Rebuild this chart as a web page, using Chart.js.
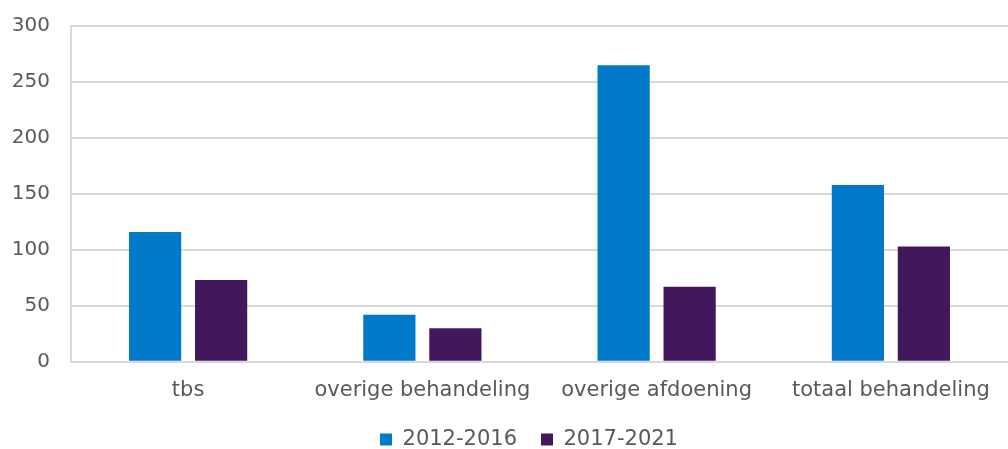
<!DOCTYPE html>
<html><head><meta charset="utf-8">
<script src="https://cdn.jsdelivr.net/npm/chart.js@4"></script>
<style>html,body{margin:0;padding:0;background:#fff}#wrap{width:1008px;height:449px}</style>
</head><body><div id="wrap"><canvas id="c" width="1008" height="449"></canvas></div>
<script>
const categories = ["tbs", "overige behandeling", "overige afdoening", "totaal behandeling"];
const series2012_2016 = [116, 42, 265, 158];
const series2017_2021 = [73, 30, 67, 103];
const yTicks = [0, 50, 100, 150, 200, 250, 300];

Chart.defaults.font.family = "'DejaVu Sans', Verdana, sans-serif";
Chart.defaults.color = "#595959";

const legendShift = {
  id: 'legendShift',
  afterLayout(chart) {
    const lg = chart.legend;
    lg.left += 18; lg.right += 18;
    lg.top -= 14; lg.bottom -= 14;
  }
};

new Chart(document.getElementById('c'), {
  type: 'bar',
  data: {
    labels: categories,
    datasets: [
      {label: "2012-2016", data: series2012_2016, backgroundColor: "#0079C8"},
      {label: "2017-2021", data: series2017_2021, backgroundColor: "#43175C"}
    ]
  },
  plugins: [legendShift],
  options: {
    responsive: false,
    animation: false,
    devicePixelRatio: 1,
    categoryPercentage: 0.5635,
    barPercentage: 0.791,
    layout: {padding: {top: 26, right: -14, left: 0, bottom: -25}},
    plugins: {
      legend: {
        position: 'bottom',
        labels: {boxWidth: 12, boxHeight: 12, padding: 24, font: {size: 21}, color: "#595959"}
      },
      tooltip: {enabled: false}
    },
    scales: {
      x: {
        grid: {display: false, drawTicks: false},
        border: {display: true, color: "#d9d9d9", width: 2},
        ticks: {font: {size: 21}, padding: 16, color: "#595959", maxRotation: 0, autoSkip: false}
      },
      y: {
        min: 0, max: 300,
        afterBuildTicks: (s) => { s.ticks = yTicks.map(v => ({value: v})); },
        afterFit: (s) => { s.width = 71; s.paddingTop = 0; s.paddingBottom = 0; },
        grid: {color: "#d9d9d9", lineWidth: 2, drawTicks: false},
        border: {display: true, color: "#d9d9d9", width: 2},
        ticks: {font: {size: 20}, padding: 21, color: "#595959"}
      }
    }
  }
});
</script></body></html>
